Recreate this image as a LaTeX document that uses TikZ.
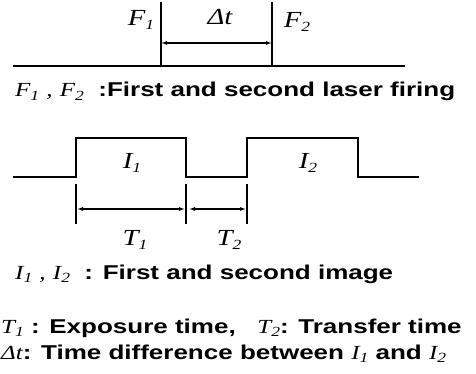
\documentclass[tikz,border=0pt]{standalone}
\usepackage{fontspec}
\setmainfont{Liberation Sans}[FakeStretch=1.3]
\newfontfamily\symfont{Liberation Serif}[FakeStretch=1.25]
\usetikzlibrary{arrows.meta}
\newcommand{\sy}[2]{{\symfont\mdseries\itshape #1\raisebox{-0.35ex}{\fontsize{14}{14}\selectfont #2}}}
\newcommand{\cm}{{\symfont\mdseries\itshape ,}}
\newcommand{\dt}{{\symfont\mdseries\itshape Δt}}
\begin{document}
\begin{tikzpicture}[x=1pt,y=-1pt,
  wave/.style={line width=1.4pt},
  tick/.style={line width=1.2pt},
  dim/.style={line width=1.1pt,{Latex[length=6pt,width=4pt]}-{Latex[length=6pt,width=4pt]}},
  lbl/.style={inner sep=0pt,font=\fontsize{23}{23}\selectfont},
  txt/.style={inner sep=0pt,anchor=base west,font=\fontsize{20}{20}\selectfont\bfseries}]
\useasboundingbox (0,0) rectangle (476,374);
% laser firing
\coordinate (l0) at (13,66);
\coordinate (l1) at (405,66);
\coordinate (f1t) at (161,2);
\coordinate (f1b) at (161,66);
\coordinate (f2t) at (272,2);
\coordinate (f2b) at (272,66);
\coordinate (a1) at (161,43);
\coordinate (a2) at (272,43);
\draw[wave] (l0) -- (l1);
\draw[tick] (f1t) -- (f1b);
\draw[tick] (f2t) -- (f2b);
\draw[dim] (a1) -- (a2);
\node[lbl] (F1) at (141,20) {\sy{F}{1}};
\node[lbl] (F2) at (297,22) {\sy{F}{2}};
\node[lbl] (DT) at (220,17) {\dt};
\node[txt] (t1) at (15,97) {\sy{F}{1} \cm{} \sy{F}{2} \ :First and second laser firing};
% images
\coordinate (w0) at (13,177);
\coordinate (w1) at (76,177);
\coordinate (w2) at (76,138);
\coordinate (w3) at (186,138);
\coordinate (w4) at (186,177);
\coordinate (w5) at (247,177);
\coordinate (w6) at (247,138);
\coordinate (w7) at (358,138);
\coordinate (w8) at (358,177);
\coordinate (w9) at (419,177);
\draw[wave] (w0) -- (w1) -- (w2) -- (w3) -- (w4) -- (w5) -- (w6) -- (w7) -- (w8) -- (w9);
\node[lbl] (I1) at (132,163) {\sy{I}{1}};
\node[lbl] (I2) at (308,163) {\sy{I}{2}};
\coordinate (k1t) at (76,184);
\coordinate (k1b) at (76,224);
\coordinate (k2t) at (186,184);
\coordinate (k2b) at (186,224);
\coordinate (k3t) at (247,184);
\coordinate (k3b) at (247,224);
\draw[tick] (k1t) -- (k1b);
\draw[tick] (k2t) -- (k2b);
\draw[tick] (k3t) -- (k3b);
\coordinate (b1) at (77,209);
\coordinate (b2) at (185,209);
\coordinate (b3) at (189,209);
\coordinate (b4) at (246,209);
\draw[dim] (b1) -- (b2);
\draw[dim] (b3) -- (b4);
\node[lbl] (T1) at (135,240) {\sy{T}{1}};
\node[lbl] (T2) at (229,240) {\sy{T}{2}};
% legend
\node[txt] (t2) at (15,279) {\sy{I}{1} \cm{} \sy{I}{2} \ : First and second image};
\node[txt] (t3) at (1,333) {\sy{T}{1} : Exposure time, \ \ \sy{T}{2}: Transfer time};
\node[txt] (t4) at (1,359) {\dt: Time difference between \sy{I}{1} and \sy{I}{2}};
\end{tikzpicture}
\end{document}
